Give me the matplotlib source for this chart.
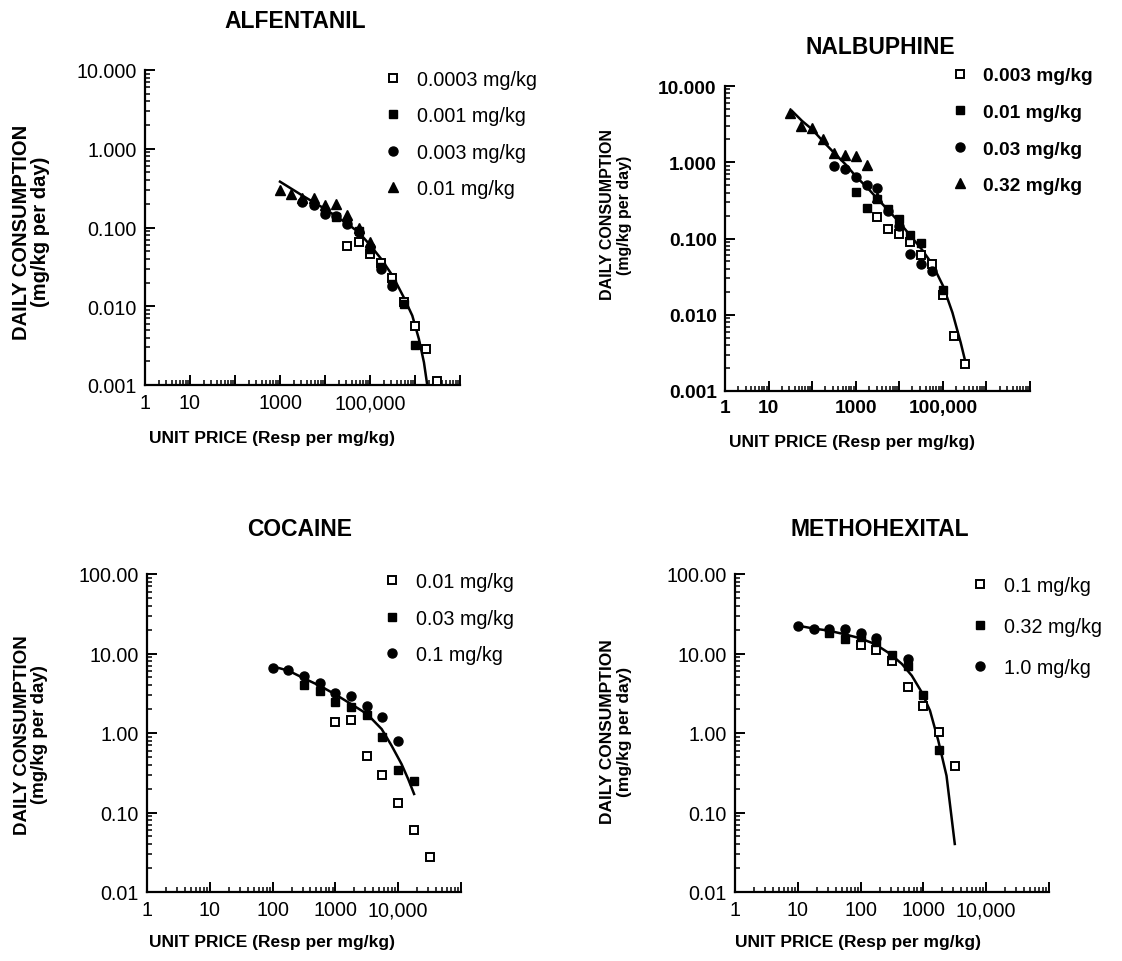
import numpy as np
import matplotlib.pyplot as plt
from matplotlib.ticker import LogLocator, NullFormatter

plt.rcParams['font.family'] = ['Liberation Sans', 'DejaVu Sans']

W, H = 1122, 962

# ---------------- ALFENTANIL ----------------
alf_x_a = [31600, 56200, 100000, 178000, 316000, 562000, 1000000, 1780000, 3160000]
alf_y_a = [0.0588, 0.065, 0.046, 0.0354, 0.0226, 0.0112, 0.00567, 0.00286, 0.00114]
alf_x_b = [10000, 17800, 31600, 56200, 100000, 178000, 316000, 562000, 1000000]
alf_y_b = [0.156, 0.135, 0.119, 0.091, 0.0533, 0.0312, 0.0192, 0.0107, 0.00325]
alf_x_c = [3160, 5620, 10000, 17800, 31600, 56200, 100000, 178000, 316000]
alf_y_c = [0.213, 0.193, 0.148, 0.14, 0.111, 0.087, 0.056, 0.0297, 0.0182]
alf_x_d = [1000, 1780, 3160, 5620, 10000, 17800, 31600, 56200, 100000]
alf_y_d = [0.302, 0.266, 0.234, 0.236, 0.195, 0.197, 0.144, 0.100, 0.066]
alf_fit_x = [1000, 3160, 10000, 31600, 56200, 100000, 178000, 316000, 562000,
             871000, 1220000, 1580000, 1880000]
alf_fit_y = [0.382, 0.254, 0.172, 0.111, 0.087, 0.060, 0.0398, 0.0245, 0.0130,
             0.0076, 0.00384, 0.00194, 0.00098]
alf_labels = ['0.0003 mg/kg', '0.001 mg/kg', '0.003 mg/kg', '0.01 mg/kg']

# ---------------- NALBUPHINE ----------------
nal_x_a = [3160, 5620, 10000, 17800, 31600, 56200, 100000, 178000, 316000]
nal_y_a = [0.1915, 0.132, 0.1146, 0.0901, 0.0602, 0.0457, 0.0180, 0.00527, 0.00224]
nal_x_b = [1000, 1780, 3160, 5620, 10000, 17800, 31600, 100000]
nal_y_b = [0.412, 0.254, 0.327, 0.2415, 0.1824, 0.110, 0.0883, 0.0211]
nal_x_c = [316, 562, 1000, 1780, 3160, 5620, 10000, 17800, 31600, 56200]
nal_y_c = [0.894, 0.809, 0.641, 0.499, 0.465, 0.23, 0.146, 0.0634, 0.0459, 0.0375]
nal_x_d = [31.6, 56.2, 100, 178, 316, 562, 1000, 1780, 3160]
nal_y_d = [4.39, 2.99, 2.84, 2.00, 1.34, 1.25, 1.21, 0.91, 0.354]
nal_fit_x = [34.5, 58.7, 100, 175, 314, 582, 990, 1835, 3235, 5780, 10180,
             18200, 32700, 57500, 101000, 166000, 257000, 335000]
nal_fit_y = [4.71, 3.48, 2.70, 1.90, 1.34, 0.94, 0.661, 0.465, 0.327, 0.2296,
             0.1615, 0.108, 0.0722, 0.0459, 0.0239, 0.01066, 0.0043, 0.00231]
nal_labels = ['0.003 mg/kg', '0.01 mg/kg', '0.03 mg/kg', '0.32 mg/kg']

# ---------------- COCAINE ----------------
coc_x_a = [1000, 1780, 3160, 5620, 10000, 17800, 31600]
coc_y_a = [1.36, 1.47, 0.519, 0.296, 0.132, 0.0608, 0.0278]
coc_x_b = [316, 562, 1000, 1780, 3160, 5620, 10000, 17800]
coc_y_b = [4.02, 3.34, 2.43, 2.10, 1.68, 0.90, 0.343, 0.251]
coc_x_c = [100, 178, 316, 562, 1000, 1780, 3160, 5620, 10000]
coc_y_c = [6.57, 6.26, 5.16, 4.25, 3.16, 2.89, 2.21, 1.57, 0.80]
coc_fit_x = [100, 179, 316, 559, 977, 1767, 3200, 5460, 7850, 11300, 14400, 17900]
coc_fit_y = [6.90, 6.08, 4.87, 3.94, 3.09, 2.32, 1.73, 1.12, 0.693, 0.407, 0.264, 0.171]
coc_labels = ['0.01 mg/kg', '0.03 mg/kg', '0.1 mg/kg']

# ---------------- METHOHEXITAL ----------------
met_x_a = [100, 178, 316, 562, 1000, 1780, 3160]
met_y_a = [12.8, 11.2, 8.12, 3.75, 2.16, 1.04, 0.381]
met_x_b = [31.6, 56.2, 100, 178, 316, 562, 1000, 1780]
met_y_b = [18.1, 15.2, 16.0, 13.8, 9.58, 6.90, 3.01, 0.617]
met_x_c = [10, 17.8, 31.6, 56.2, 100, 178, 562]
met_y_c = [22.0, 20.3, 20.6, 20.3, 18.1, 15.7, 8.53]
met_fit_x = [10, 17.3, 30.9, 53.2, 94.2, 168, 298, 455, 654, 942, 1274, 1727, 2334, 3160]
met_fit_y = [22.4, 20.7, 19.4, 17.6, 15.7, 13.2, 9.86, 7.38, 5.26, 3.25, 1.91, 0.80, 0.290, 0.0402]
met_labels = ['0.1 mg/kg', '0.32 mg/kg', '1.0 mg/kg']

top_yticks = [0.001, 0.01, 0.1, 1, 10]
top_ylabels = ['0.001', '0.010', '0.100', '1.000', '10.000']
top_xticks = [1, 10, 100, 1000, 1e4, 1e5, 1e6, 1e7]
top_xlabels = ['1', '10', '', '1000', '', '100,000', '', '']
bot_yticks = [0.01, 0.1, 1, 10, 100]
bot_ylabels = ['0.01', '0.10', '1.00', '10.00', '100.00']
bot_xticks = [1, 10, 100, 1000, 1e4, 1e5]
bot_xlabels = ['1', '10', '100', '1000', '10,000', '']

MARKERS = [dict(marker='s', mfc='white', mec='black', mew=1.4, ms=6),
           dict(marker='s', mfc='black', mec='black', ms=6),
           dict(marker='o', mfc='black', mec='black', ms=6.5),
           dict(marker='^', mfc='black', mec='black', ms=7)]


def px_axes(fig, x0, y0, x1, y1):
    return fig.add_axes([x0 / W, 1 - y1 / H, (x1 - x0) / W, (y1 - y0) / H])


def ftext(fig, x, y, s, **kw):
    fig.text(x / W, 1 - y / H, s, ha='center', va='center', **kw)


def panel(ax, series, fit_x, fit_y, labels, xlim, ylim, xticks, xlabels,
          yticks, ylabels, leg_xy, leg_space, weight='normal', fs=14.2):
    ax.plot(fit_x, fit_y, color='black', lw=1.8, zorder=2)
    handles = []
    for (x, y), style, lab in zip(series, MARKERS, labels):
        h, = ax.plot(x, y, ls='none', label=lab, zorder=3, **style)
        handles.append(h)
    ax.set_xscale('log')
    ax.set_yscale('log')
    ax.set_xlim(*xlim)
    ax.set_ylim(*ylim)
    ax.set_xticks(xticks)
    ax.set_xticklabels(xlabels)
    ax.set_yticks(yticks)
    ax.set_yticklabels(ylabels)
    ax.xaxis.set_minor_locator(LogLocator(base=10, subs=np.arange(2, 10), numticks=50))
    ax.yaxis.set_minor_locator(LogLocator(base=10, subs=np.arange(2, 10), numticks=50))
    ax.xaxis.set_minor_formatter(NullFormatter())
    ax.yaxis.set_minor_formatter(NullFormatter())
    ax.spines['top'].set_visible(False)
    ax.spines['right'].set_visible(False)
    for s in ['left', 'bottom']:
        ax.spines[s].set_linewidth(1.6)
    ax.tick_params(which='major', direction='in', length=7, width=1.4,
                   labelsize=fs, pad=6)
    ax.tick_params(which='minor', direction='in', length=3.5, width=1.1)
    for t in ax.get_xticklabels() + ax.get_yticklabels():
        t.set_fontweight(weight)
    leg = ax.legend(handles=handles, loc='upper left',
                    bbox_to_anchor=(leg_xy[0] / W, 1 - leg_xy[1] / H),
                    bbox_transform=ax.figure.transFigure, frameon=False,
                    borderpad=0, borderaxespad=0, handlelength=1.0,
                    handletextpad=0.7, labelspacing=leg_space,
                    prop=dict(size=fs, weight=weight))
    return leg


fig = plt.figure(figsize=(W / 100, H / 100), dpi=100)

ax1 = px_axes(fig, 145, 71, 460, 386)
panel(ax1, [(alf_x_a, alf_y_a), (alf_x_b, alf_y_b), (alf_x_c, alf_y_c), (alf_x_d, alf_y_d)],
      alf_fit_x, alf_fit_y, alf_labels, (1, 1e7), (0.001, 10), top_xticks, top_xlabels,
      top_yticks, top_ylabels, (383, 71), 0.88)

ax2 = px_axes(fig, 725, 87, 1030, 392)
panel(ax2, [(nal_x_a, nal_y_a), (nal_x_b, nal_y_b), (nal_x_c, nal_y_c), (nal_x_d, nal_y_d)],
      nal_fit_x, nal_fit_y, nal_labels, (1, 1e7), (0.001, 10), top_xticks, top_xlabels,
      top_yticks, top_ylabels, (950, 68), 1.0, weight='bold', fs=13.8)

ax3 = px_axes(fig, 147, 575, 461, 893)
panel(ax3, [(coc_x_a, coc_y_a), (coc_x_b, coc_y_b), (coc_x_c, coc_y_c)],
      coc_fit_x, coc_fit_y, coc_labels, (1, 1e5), (0.01, 100), bot_xticks, bot_xlabels,
      bot_yticks, bot_ylabels, (382, 573), 0.89)

ax4 = px_axes(fig, 735, 575, 1049, 893)
panel(ax4, [(met_x_a, met_y_a), (met_x_b, met_y_b), (met_x_c, met_y_c)],
      met_fit_x, met_fit_y, met_labels, (1, 1e5), (0.01, 100), bot_xticks, bot_xlabels,
      bot_yticks, bot_ylabels, (970, 577), 1.11)

ylab = 'DAILY CONSUMPTION\n(mg/kg per day)'
xlab = 'UNIT PRICE (Resp per mg/kg)'
lab_kw = dict(fontsize=12.5, fontweight='bold', linespacing=1.1)

ftext(fig, 295, 22, 'ALFENTANIL', fontsize=16.5, fontweight='bold')
ftext(fig, 880, 48, 'NALBUPHINE', fontsize=16.5, fontweight='bold')
ftext(fig, 300, 530, 'COCAINE', fontsize=16.5, fontweight='bold')
ftext(fig, 880, 530, 'METHOHEXITAL', fontsize=16.5, fontweight='bold')

ftext(fig, 31, 232, ylab, rotation=90, fontsize=14.5, fontweight='bold', linespacing=1.0)
ftext(fig, 616, 215, ylab, rotation=90, fontsize=11.5, fontweight='bold', linespacing=1.15)
ftext(fig, 31, 735, ylab, rotation=90, fontsize=13.5, fontweight='bold', linespacing=1.05)
ftext(fig, 616, 732, ylab, rotation=90, fontsize=12.5, fontweight='bold', linespacing=1.1)

ftext(fig, 272, 438, xlab, **lab_kw)
ftext(fig, 852, 443, xlab, **lab_kw)
ftext(fig, 272, 943, xlab, **lab_kw)
ftext(fig, 858, 943, xlab, **lab_kw)

fig.savefig('out.png', dpi=100)
